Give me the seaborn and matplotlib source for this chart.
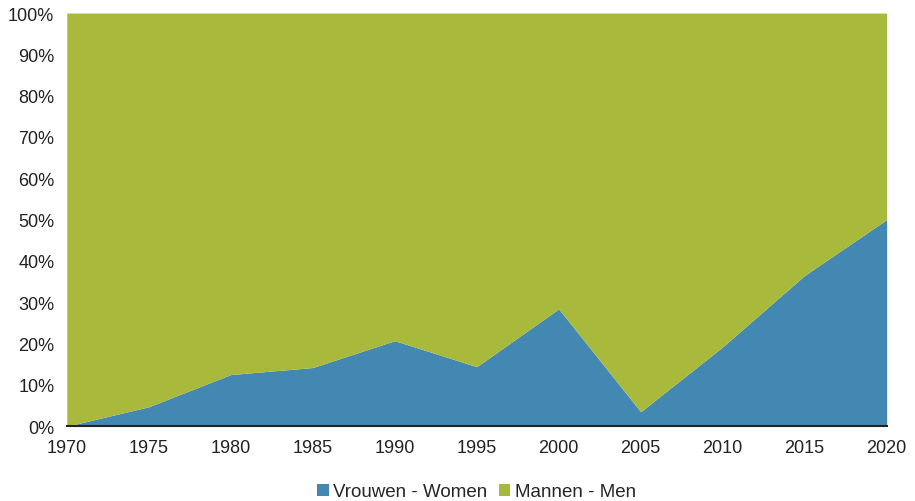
import matplotlib
matplotlib.use("Agg")
import matplotlib.pyplot as plt
import seaborn as sns
from matplotlib.patches import Patch
from matplotlib.ticker import PercentFormatter

# Share of women vs men per year (percent)
years = [1970, 1975, 1980, 1985, 1990, 1995, 2000, 2005, 2010, 2015, 2020]
women = [0, 4.7, 12.5, 14.2, 20.7, 14.4, 28.4, 3.5, 19.2, 36.5, 50]
men = [100 - w for w in women]
labels = ["Vrouwen - Women", "Mannen - Men"]
colors = ["#4288b3", "#a9b93b"]

sns.set_theme(style="white")
plt.rcParams["font.family"] = ["Liberation Sans", "DejaVu Sans"]

fig = plt.figure(figsize=(9.15, 5.02), dpi=100)
ax = fig.add_axes([0.073, 0.149, 0.896, 0.823])

ax.stackplot(years, women, men, colors=colors, linewidth=0)

ax.set_xlim(1970, 2020)
ax.set_ylim(0, 100)
ax.set_xticks(years)
ax.set_yticks(range(0, 101, 10))
ax.yaxis.set_major_formatter(PercentFormatter(decimals=0))
ax.tick_params(axis="both", length=0, labelsize=13, colors="#222222")
ax.tick_params(axis="x", pad=9)
ax.tick_params(axis="y", pad=9)

sns.despine(ax=ax, left=True, top=True, right=True)
ax.spines["bottom"].set_color("#222222")
ax.spines["bottom"].set_linewidth(1.5)

handles = [Patch(facecolor=c, edgecolor="none", label=l) for c, l in zip(colors, labels)]
fig.legend(handles=handles, loc="lower center", bbox_to_anchor=(0.521, -0.032), ncol=2,
           frameon=False, fontsize=13.5, handlelength=0.6, handleheight=0.6,
           handletextpad=0.25, columnspacing=0.6)

fig.savefig("out.png", dpi=100)
